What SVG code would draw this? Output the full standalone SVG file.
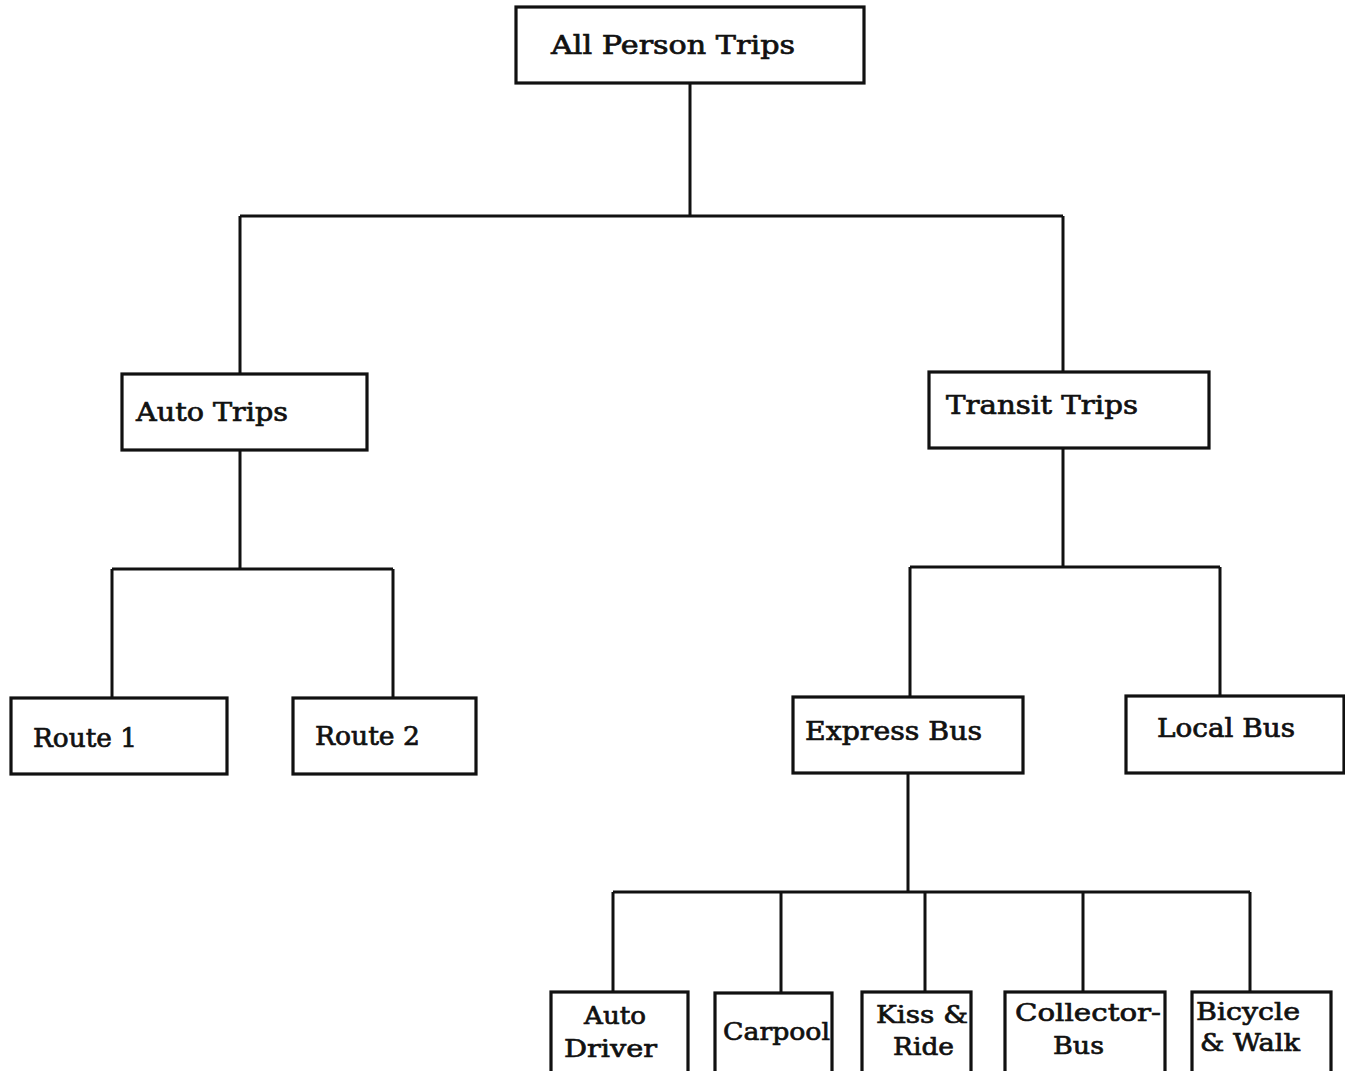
<svg xmlns="http://www.w3.org/2000/svg" width="1345" height="1071" viewBox="0 0 1345 1071">
  <style>
    .box { fill: #ffffff; stroke: #111111; stroke-width: 3.2; }
    .lbl { font-family: "DejaVu Serif", "Liberation Serif", serif; font-size: 26px; fill: #111111; stroke: #111111; stroke-width: 0.7; }
    .sm { font-size: 25px; }
    .wire { fill: none; stroke: #111111; stroke-width: 3; }
  </style>
  <rect width="1345" height="1071" fill="#ffffff"/>

  <!-- tree connectors -->
  <g id="connectors" class="wire">
    <path d="M690 83 V216 M240 216 H1063 M240 216 V373 M1063 216 V372"/>
    <path d="M240 450 V569 M112 569 H393 M112 569 V698 M393 569 V698"/>
    <path d="M1063 448 V567 M910 567 H1220 M910 567 V697 M1220 567 V695"/>
    <path d="M908 773 V892 M613 892 H1250 M613 892 V992 M781 892 V993 M925 892 V992 M1083 892 V992 M1250 892 V992"/>
  </g>

  <g id="all-person-trips">
    <rect class="box" x="516" y="7" width="348" height="76"/>
    <text class="lbl" x="551" y="54" textLength="244" lengthAdjust="spacingAndGlyphs">All Person Trips</text>
  </g>

  <g id="auto-trips">
    <rect class="box" x="122" y="374" width="245" height="76"/>
    <text class="lbl" x="136" y="421" textLength="152" lengthAdjust="spacingAndGlyphs">Auto Trips</text>
  </g>

  <g id="transit-trips">
    <rect class="box" x="929" y="372" width="280" height="76"/>
    <text class="lbl" x="946" y="414" textLength="192" lengthAdjust="spacingAndGlyphs">Transit Trips</text>
  </g>

  <g id="route-1">
    <rect class="box" x="11" y="698" width="216" height="76"/>
    <text class="lbl" x="33" y="747" textLength="104" lengthAdjust="spacingAndGlyphs">Route 1</text>
  </g>

  <g id="route-2">
    <rect class="box" x="293" y="698" width="183" height="76"/>
    <text class="lbl" x="315" y="745" textLength="105" lengthAdjust="spacingAndGlyphs">Route 2</text>
  </g>

  <g id="express-bus">
    <rect class="box" x="793" y="697" width="230" height="76"/>
    <text class="lbl" x="805" y="740" textLength="177" lengthAdjust="spacingAndGlyphs">Express Bus</text>
  </g>

  <g id="local-bus">
    <rect class="box" x="1126" y="696" width="218" height="77"/>
    <text class="lbl" x="1157" y="737" textLength="138" lengthAdjust="spacingAndGlyphs">Local Bus</text>
  </g>

  <g id="auto-driver">
    <rect class="box" x="551" y="992" width="137" height="82"/>
    <text class="lbl sm" x="584" y="1024" textLength="62" lengthAdjust="spacingAndGlyphs">Auto</text>
    <text class="lbl sm" x="564" y="1057" textLength="93" lengthAdjust="spacingAndGlyphs">Driver</text>
  </g>

  <g id="carpool">
    <rect class="box" x="715" y="993" width="117" height="81"/>
    <text class="lbl sm" x="723" y="1040" textLength="107" lengthAdjust="spacingAndGlyphs">Carpool</text>
  </g>

  <g id="kiss-and-ride">
    <rect class="box" x="862" y="992" width="109" height="82"/>
    <text class="lbl sm" x="876" y="1023" textLength="92" lengthAdjust="spacingAndGlyphs">Kiss &amp;</text>
    <text class="lbl sm" x="893" y="1055" textLength="61" lengthAdjust="spacingAndGlyphs">Ride</text>
  </g>

  <g id="collector-bus">
    <rect class="box" x="1005" y="992" width="160" height="82"/>
    <text class="lbl sm" x="1015" y="1021" textLength="146" lengthAdjust="spacingAndGlyphs">Collector-</text>
    <text class="lbl sm" x="1053" y="1054" textLength="51" lengthAdjust="spacingAndGlyphs">Bus</text>
  </g>

  <g id="bicycle-and-walk">
    <rect class="box" x="1192" y="992" width="139" height="82"/>
    <text class="lbl sm" x="1196" y="1020" textLength="104" lengthAdjust="spacingAndGlyphs">Bicycle</text>
    <text class="lbl sm" x="1200" y="1051" textLength="100" lengthAdjust="spacingAndGlyphs">&amp; Walk</text>
  </g>
</svg>
